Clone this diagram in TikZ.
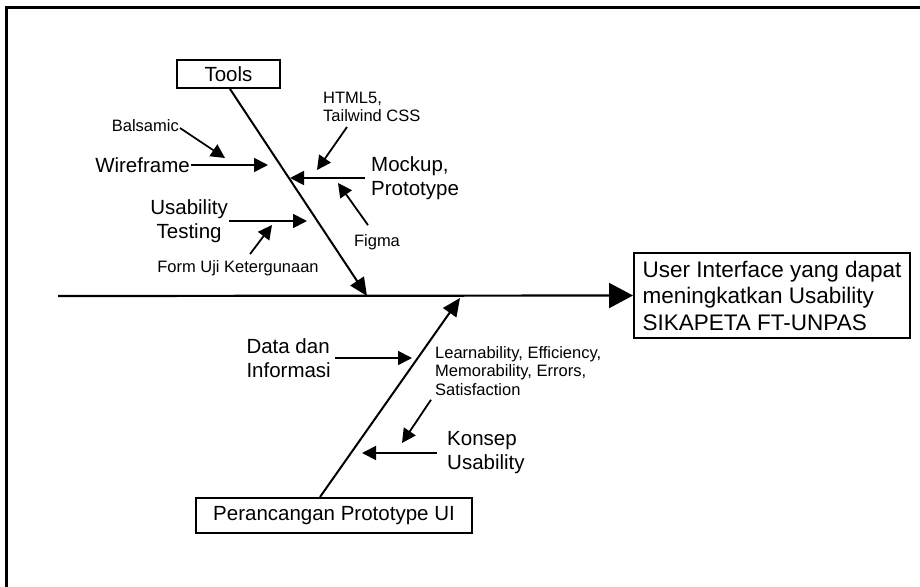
\documentclass[tikz,border=0pt]{standalone}
\usepackage{fontspec}
\setmainfont{Liberation Sans}
\usetikzlibrary{arrows.meta}

\tikzset{
  box/.style={draw, line width=2pt, inner sep=4pt},
  spine/.style={line width=2.2pt, -{Triangle[length=24pt,width=25pt]}},
  bone/.style={line width=2pt, -{Triangle[length=18pt,width=16pt]}},
  twig/.style={line width=1.8pt, -{Triangle[length=14pt,width=14pt]}},
  big/.style={font=\fontsize{20.5}{24}\selectfont},
  small/.style={font=\fontsize{16.5}{18.5}\selectfont},
  head/.style={font=\fontsize{22.5}{26.5}\selectfont},
}

\begin{document}
\begin{tikzpicture}[x=1pt, y=-1pt]
   \useasboundingbox (0,0) rectangle (920,586);
   % frame
   \draw[line width=3pt] (6,590) -- (6,8) -- (925,8);

   % head and spine
   \node[box, head, align=left, minimum width=276pt, minimum height=85pt] (effect) at (772,295.5)
      {User Interface yang dapat\\meningkatkan Usability\\SIKAPETA FT-UNPAS};
   \coordinate (tail) at (58,296);
   \draw[spine] (tail) -- (effect.west);

   % upper bone
   \node[box, big, minimum width=103pt, minimum height=28pt] (tools) at (228.5,74) {Tools};
   \coordinate (toolstip) at (367,296);
   \draw[bone] ([xshift=1.5pt]tools.south) -- (toolstip);

   % lower bone
   \node[box, big, minimum width=276pt, minimum height=35pt] (ppui) at (334,515.5) {Perancangan Prototype UI};
   \coordinate (ppuitip) at (460,298);
   \draw[bone] ([xshift=-14pt]ppui.north) -- (ppuitip);

   % causes on the upper bone
   \node[small, anchor=east, inner sep=1pt] (balsamic) at (180,126) {Balsamic};
   \coordinate (balsamictip) at (225,158);
   \draw[twig] ([yshift=-2pt]balsamic.east) -- (balsamictip);

   \node[big, anchor=east, inner sep=1pt] (wire) at (191,165) {Wireframe};
   \coordinate (wiretip) at (268,165);
   \draw[twig] (wire.east) -- (wiretip);

   \node[small, align=left, anchor=south west, inner sep=0pt] (html) at (323,122) {HTML5,\\Tailwind CSS};
   \coordinate (htmltip) at (317,170);
   \draw[twig] ([shift={(24pt,-5pt)}]html.south west) -- (htmltip);

   \node[big, align=left, anchor=west, inner sep=1pt] (mock) at (370,178) {Mockup,\\Prototype};
   \coordinate (mocktip) at (290,178);
   \draw[twig] ([xshift=-5pt]mock.west) -- (mocktip);

   \node[small, inner sep=1pt] (figma) at (377,242) {Figma};
   \coordinate (figmatip) at (338,183);
   \draw[twig] ([shift={(-9pt,8pt)}]figma.north) -- (figmatip);

   \node[big, align=center, anchor=east, inner sep=1pt] (testing) at (229,221) {Usability\\Testing};
   \coordinate (testingtip) at (307,221);
   \draw[twig] (testing.east) -- (testingtip);

   \node[small, inner sep=1pt] (form) at (238,268) {Form Uji Ketergunaan};
   \coordinate (formtip) at (272,225);
   \draw[twig] ([shift={(12pt,5pt)}]form.north) -- (formtip);

   % causes on the lower bone
   \node[big, align=left, anchor=east, inner sep=1pt] (data) at (332,358) {Data dan\\Informasi};
   \coordinate (datatip) at (412,358);
   \draw[twig] ([xshift=3pt]data.east) -- (datatip);

   \node[small, align=left, anchor=west, inner sep=1pt] (criteria) at (434,371)
      {Learnability, Efficiency,\\Memorability, Errors,\\Satisfaction};
   \coordinate (criteriatip) at (402,443);
   \draw[twig] ([shift={(-3pt,-3pt)}]criteria.south west) -- (criteriatip);

   \node[big, align=left, anchor=west, inner sep=1pt] (konsep) at (446,453) {Konsep\\Usability};
   \coordinate (konseptip) at (362,453);
   \draw[twig] ([xshift=-9pt]konsep.west) -- (konseptip);
\end{tikzpicture}
\end{document}
